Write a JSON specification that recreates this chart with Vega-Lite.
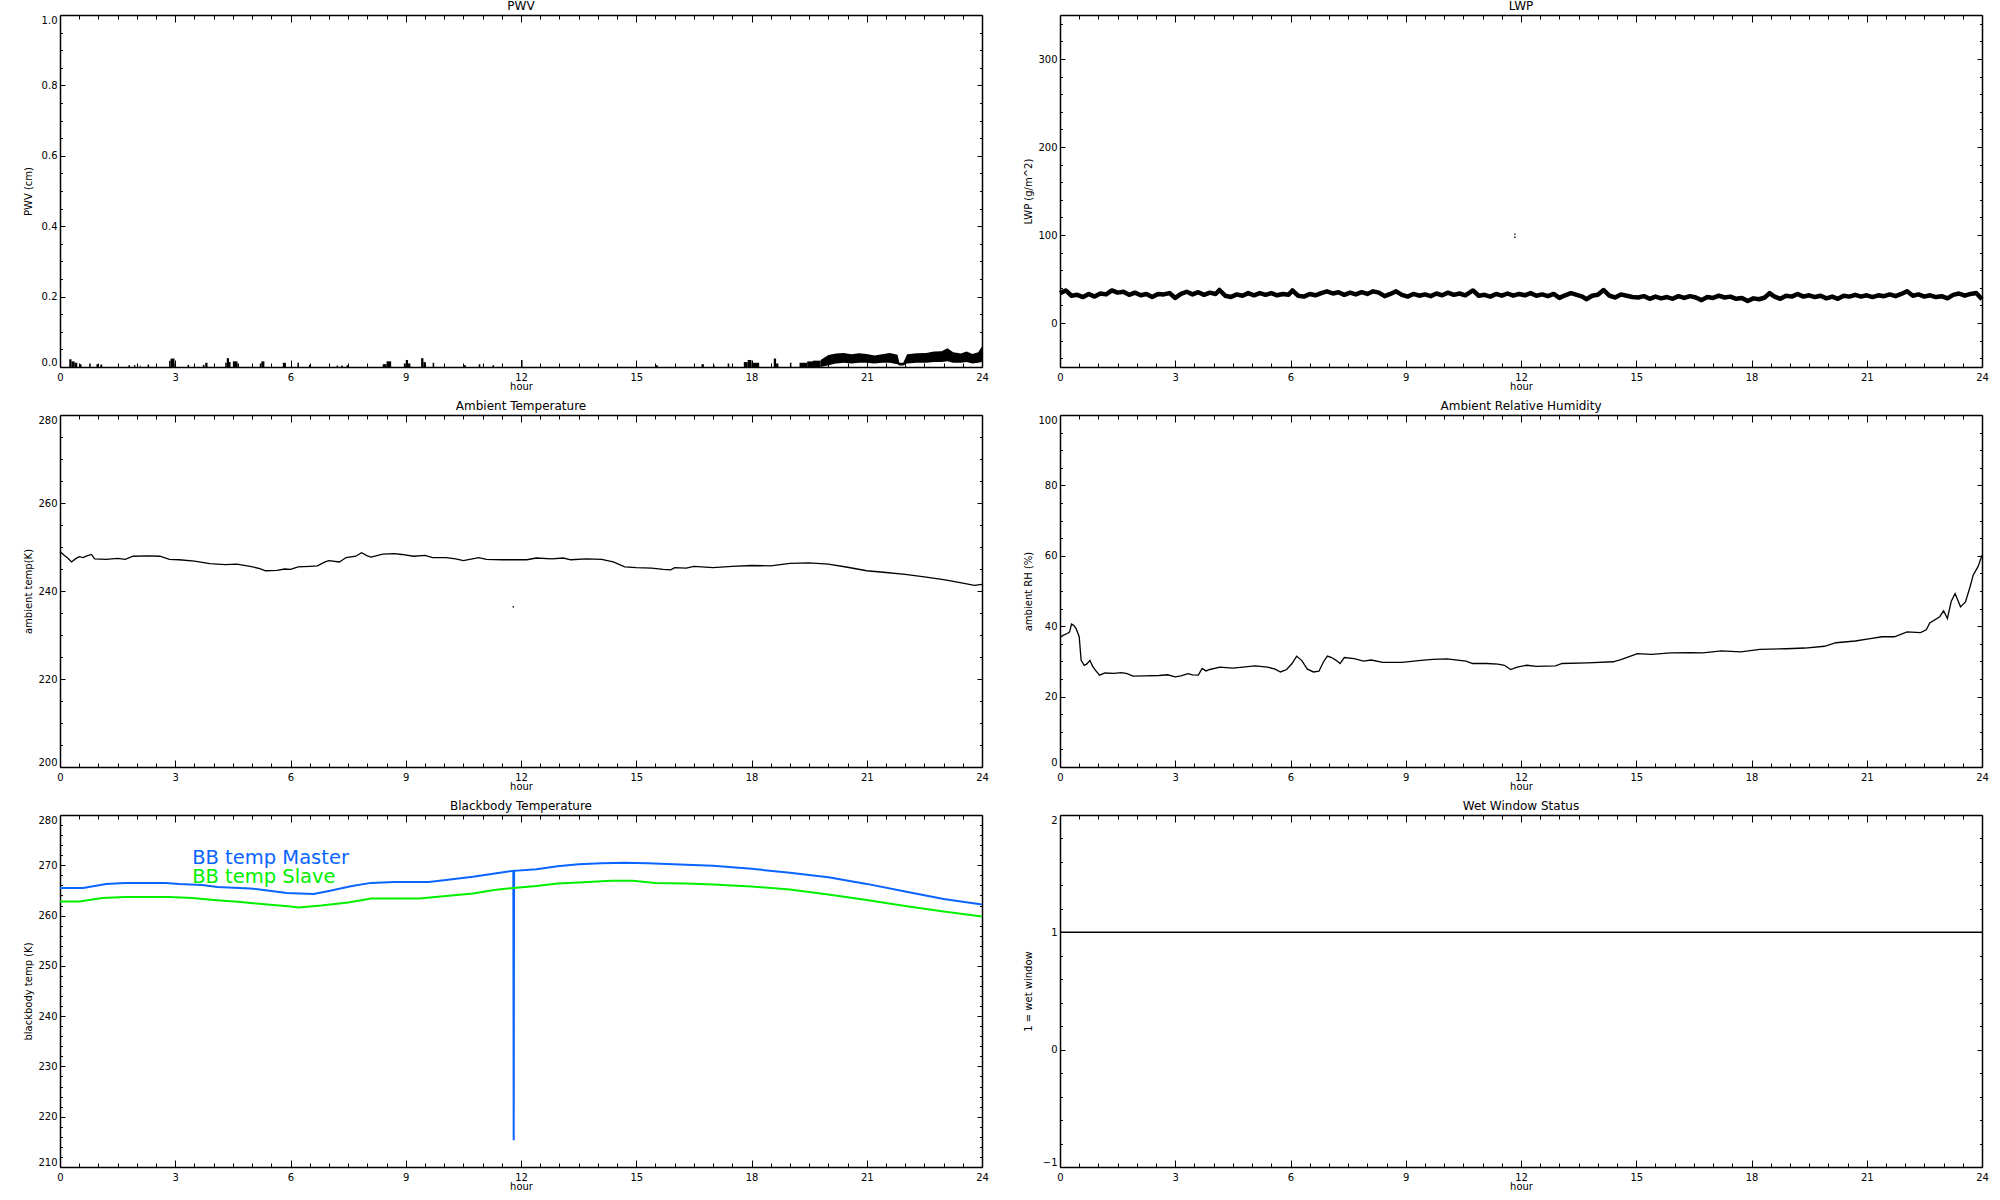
{
  "$schema": "https://vega.github.io/schema/vega-lite/v6.json",
  "background": "white",
  "padding": {"left": 23, "top": 0, "right": 0, "bottom": 0},
  "columns": 2,
  "spacing": {"row": 48, "column": 78},
  "bounds": "flush",
  "datasets": {
    "pwvSpikes": [
      {"h0":0.24,"h1":0.30,"v":0.022},{"h0":0.30,"h1":0.38,"v":0.016},{"h0":0.38,"h1":0.45,"v":0.012},{"h0":0.52,"h1":0.56,"v":0.008},
      {"h0":0.76,"h1":0.80,"v":0.010},{"h0":0.95,"h1":1.00,"v":0.008},{"h0":1.05,"h1":1.10,"v":0.007},{"h0":1.78,"h1":1.82,"v":0.005},
      {"h0":1.93,"h1":1.96,"v":0.006},{"h0":2.08,"h1":2.10,"v":0.004},{"h0":2.28,"h1":2.32,"v":0.007},{"h0":2.84,"h1":2.88,"v":0.018},
      {"h0":2.88,"h1":2.98,"v":0.024},{"h0":2.98,"h1":3.02,"v":0.010},{"h0":3.32,"h1":3.36,"v":0.006},{"h0":3.72,"h1":3.76,"v":0.006},
      {"h0":3.78,"h1":3.84,"v":0.012},{"h0":4.30,"h1":4.34,"v":0.012},{"h0":4.34,"h1":4.40,"v":0.025},{"h0":4.40,"h1":4.44,"v":0.014},
      {"h0":4.50,"h1":4.62,"v":0.016},{"h0":4.62,"h1":4.66,"v":0.010},{"h0":5.20,"h1":5.24,"v":0.010},{"h0":5.24,"h1":5.32,"v":0.016},
      {"h0":5.80,"h1":5.88,"v":0.012},{"h0":6.18,"h1":6.22,"v":0.012},{"h0":6.48,"h1":6.52,"v":0.006},{"h0":7.20,"h1":7.24,"v":0.004},
      {"h0":7.32,"h1":7.36,"v":0.004},{"h0":7.46,"h1":7.52,"v":0.005},{"h0":8.40,"h1":8.50,"v":0.008},{"h0":8.50,"h1":8.62,"v":0.016},
      {"h0":8.95,"h1":9.00,"v":0.010},{"h0":9.00,"h1":9.06,"v":0.020},{"h0":9.06,"h1":9.12,"v":0.010},{"h0":9.40,"h1":9.46,"v":0.025},
      {"h0":9.46,"h1":9.52,"v":0.014},{"h0":9.70,"h1":9.74,"v":0.012},{"h0":10.52,"h1":10.56,"v":0.006},{"h0":10.90,"h1":10.94,"v":0.008},
      {"h0":11.26,"h1":11.30,"v":0.005},{"h0":12.00,"h1":12.04,"v":0.020},{"h0":15.50,"h1":15.56,"v":0.005},{"h0":16.70,"h1":16.76,"v":0.008},
      {"h0":17.00,"h1":17.04,"v":0.005},{"h0":17.38,"h1":17.42,"v":0.010},{"h0":17.80,"h1":17.90,"v":0.014},{"h0":17.90,"h1":18.00,"v":0.020},
      {"h0":18.00,"h1":18.20,"v":0.012},{"h0":18.58,"h1":18.64,"v":0.024},{"h0":18.64,"h1":18.70,"v":0.010},{"h0":19.00,"h1":19.04,"v":0.012},
      {"h0":19.25,"h1":19.45,"v":0.012},{"h0":19.45,"h1":19.60,"v":0.016},{"h0":19.60,"h1":19.80,"v":0.018}
    ],
    "pwvBand": [
      {"hour":19.8,"lo":0.0,"hi":0.02},{"hour":20.0,"lo":0.005,"hi":0.034},{"hour":20.2,"lo":0.01,"hi":0.038},{"hour":20.4,"lo":0.012,"hi":0.04},
      {"hour":20.6,"lo":0.01,"hi":0.036},{"hour":20.8,"lo":0.012,"hi":0.039},{"hour":21.0,"lo":0.012,"hi":0.037},{"hour":21.2,"lo":0.01,"hi":0.033},
      {"hour":21.4,"lo":0.012,"hi":0.036},{"hour":21.6,"lo":0.012,"hi":0.04},{"hour":21.8,"lo":0.008,"hi":0.035},{"hour":21.85,"lo":0.004,"hi":0.012},
      {"hour":21.95,"lo":0.004,"hi":0.012},{"hour":22.05,"lo":0.01,"hi":0.036},{"hour":22.3,"lo":0.012,"hi":0.039},{"hour":22.55,"lo":0.012,"hi":0.04},
      {"hour":22.75,"lo":0.014,"hi":0.044},{"hour":22.95,"lo":0.014,"hi":0.045},{"hour":23.1,"lo":0.016,"hi":0.053},{"hour":23.25,"lo":0.012,"hi":0.042},
      {"hour":23.45,"lo":0.012,"hi":0.038},{"hour":23.6,"lo":0.014,"hi":0.044},{"hour":23.75,"lo":0.01,"hi":0.037},{"hour":23.9,"lo":0.012,"hi":0.042},
      {"hour":24.0,"lo":0.014,"hi":0.058}
    ],
    "lwp": [
      {"hour":0.00,"lwp":34},{"hour":0.15,"lwp":37},{"hour":0.30,"lwp":31},{"hour":0.45,"lwp":32},{"hour":0.60,"lwp":29.5},{"hour":0.75,"lwp":33},
      {"hour":0.90,"lwp":30},{"hour":1.05,"lwp":33.5},{"hour":1.20,"lwp":32.5},{"hour":1.35,"lwp":37},{"hour":1.50,"lwp":34.5},{"hour":1.65,"lwp":35.5},
      {"hour":1.80,"lwp":32},{"hour":1.95,"lwp":34.5},{"hour":2.10,"lwp":31.5},{"hour":2.25,"lwp":33},{"hour":2.40,"lwp":29.5},{"hour":2.55,"lwp":33},
      {"hour":2.70,"lwp":32.5},{"hour":2.85,"lwp":34},{"hour":3.00,"lwp":28.5},{"hour":3.15,"lwp":33},{"hour":3.30,"lwp":35.5},{"hour":3.45,"lwp":32.5},
      {"hour":3.60,"lwp":35},{"hour":3.75,"lwp":32},{"hour":3.90,"lwp":34.5},{"hour":4.05,"lwp":33},{"hour":4.15,"lwp":37.5},{"hour":4.30,"lwp":31},
      {"hour":4.45,"lwp":29.5},{"hour":4.60,"lwp":32.5},{"hour":4.75,"lwp":31},{"hour":4.90,"lwp":34},{"hour":5.05,"lwp":31.5},{"hour":5.20,"lwp":34},
      {"hour":5.35,"lwp":32},{"hour":5.50,"lwp":34},{"hour":5.65,"lwp":31.5},{"hour":5.80,"lwp":33},{"hour":5.95,"lwp":32},{"hour":6.05,"lwp":37},
      {"hour":6.20,"lwp":31},{"hour":6.35,"lwp":30},{"hour":6.50,"lwp":33},{"hour":6.65,"lwp":31.5},{"hour":6.80,"lwp":34},{"hour":6.95,"lwp":36},
      {"hour":7.10,"lwp":33.5},{"hour":7.25,"lwp":35},{"hour":7.40,"lwp":32},{"hour":7.55,"lwp":34.5},{"hour":7.70,"lwp":32.5},{"hour":7.85,"lwp":35},
      {"hour":8.00,"lwp":33},{"hour":8.15,"lwp":36},{"hour":8.30,"lwp":34.5},{"hour":8.45,"lwp":30.5},{"hour":8.60,"lwp":33},{"hour":8.75,"lwp":36},
      {"hour":8.90,"lwp":32},{"hour":9.05,"lwp":30},{"hour":9.20,"lwp":33},{"hour":9.35,"lwp":31},{"hour":9.50,"lwp":32.5},{"hour":9.65,"lwp":30.5},
      {"hour":9.80,"lwp":33.5},{"hour":9.95,"lwp":31.5},{"hour":10.10,"lwp":34.5},{"hour":10.25,"lwp":32},{"hour":10.40,"lwp":33.5},{"hour":10.55,"lwp":31.5},
      {"hour":10.75,"lwp":37},{"hour":10.90,"lwp":31},{"hour":11.05,"lwp":32},{"hour":11.20,"lwp":30},{"hour":11.35,"lwp":33},{"hour":11.50,"lwp":31},
      {"hour":11.65,"lwp":33.5},{"hour":11.80,"lwp":31},{"hour":11.95,"lwp":33},{"hour":12.10,"lwp":31.5},{"hour":12.25,"lwp":34},{"hour":12.40,"lwp":31},
      {"hour":12.55,"lwp":32.5},{"hour":12.70,"lwp":30.5},{"hour":12.85,"lwp":33},{"hour":13.00,"lwp":28.5},{"hour":13.15,"lwp":31.5},{"hour":13.30,"lwp":34},
      {"hour":13.45,"lwp":32},{"hour":13.60,"lwp":30},{"hour":13.70,"lwp":27},{"hour":13.85,"lwp":31},{"hour":14.00,"lwp":32},{"hour":14.15,"lwp":37.5},
      {"hour":14.30,"lwp":31},{"hour":14.45,"lwp":29},{"hour":14.60,"lwp":32.5},{"hour":14.75,"lwp":31},{"hour":14.90,"lwp":29.5},{"hour":15.05,"lwp":29},
      {"hour":15.20,"lwp":30.5},{"hour":15.35,"lwp":27.5},{"hour":15.50,"lwp":30},{"hour":15.65,"lwp":28},{"hour":15.80,"lwp":29.5},{"hour":15.95,"lwp":27.5},
      {"hour":16.10,"lwp":30.5},{"hour":16.25,"lwp":28.5},{"hour":16.40,"lwp":30.5},{"hour":16.55,"lwp":29},{"hour":16.70,"lwp":26},{"hour":16.85,"lwp":29.5},
      {"hour":17.00,"lwp":28.5},{"hour":17.15,"lwp":31},{"hour":17.30,"lwp":29},{"hour":17.45,"lwp":30},{"hour":17.60,"lwp":27.5},{"hour":17.75,"lwp":28.5},
      {"hour":17.90,"lwp":25},{"hour":18.05,"lwp":28},{"hour":18.20,"lwp":27},{"hour":18.35,"lwp":29},{"hour":18.47,"lwp":34},{"hour":18.60,"lwp":30},
      {"hour":18.75,"lwp":27.5},{"hour":18.90,"lwp":31},{"hour":19.05,"lwp":30},{"hour":19.20,"lwp":33},{"hour":19.35,"lwp":30},{"hour":19.50,"lwp":31.5},
      {"hour":19.65,"lwp":29.5},{"hour":19.80,"lwp":31},{"hour":19.95,"lwp":28},{"hour":20.10,"lwp":30},{"hour":20.25,"lwp":27.5},{"hour":20.40,"lwp":31},
      {"hour":20.55,"lwp":30},{"hour":20.70,"lwp":32},{"hour":20.85,"lwp":30},{"hour":21.00,"lwp":31.5},{"hour":21.15,"lwp":29.5},{"hour":21.30,"lwp":31.5},
      {"hour":21.45,"lwp":30.5},{"hour":21.60,"lwp":32.5},{"hour":21.75,"lwp":30.5},{"hour":21.90,"lwp":33},{"hour":22.05,"lwp":36},{"hour":22.20,"lwp":31},
      {"hour":22.35,"lwp":32.5},{"hour":22.50,"lwp":30},{"hour":22.65,"lwp":31.5},{"hour":22.80,"lwp":29.5},{"hour":22.95,"lwp":30.5},{"hour":23.10,"lwp":28},
      {"hour":23.25,"lwp":32},{"hour":23.40,"lwp":33.5},{"hour":23.55,"lwp":31},{"hour":23.70,"lwp":33},{"hour":23.85,"lwp":34},{"hour":24.00,"lwp":27}
    ],
    "lwpDots": [{"hour":11.84,"lwp":101},{"hour":11.84,"lwp":97.5}],
    "temp": [
      {"hour":0,"t":249.0},{"hour":0.1,"t":248.2},{"hour":0.2,"t":247.5},{"hour":0.3,"t":246.6},{"hour":0.4,"t":247.3},{"hour":0.5,"t":247.8},
      {"hour":0.6,"t":247.6},{"hour":0.7,"t":248.0},{"hour":0.82,"t":248.3},{"hour":0.9,"t":247.3},{"hour":1.2,"t":247.2},{"hour":1.5,"t":247.4},
      {"hour":1.7,"t":247.2},{"hour":1.9,"t":247.9},{"hour":2.3,"t":248.0},{"hour":2.6,"t":247.9},{"hour":2.85,"t":247.2},{"hour":3.1,"t":247.1},
      {"hour":3.5,"t":246.8},{"hour":3.9,"t":246.2},{"hour":4.3,"t":246.0},{"hour":4.6,"t":246.1},{"hour":4.95,"t":245.6},{"hour":5.2,"t":245.1},
      {"hour":5.35,"t":244.6},{"hour":5.65,"t":244.7},{"hour":5.85,"t":245.0},{"hour":6.0,"t":244.9},{"hour":6.2,"t":245.5},{"hour":6.5,"t":245.6},
      {"hour":6.7,"t":245.7},{"hour":6.9,"t":246.6},{"hour":7.0,"t":246.9},{"hour":7.27,"t":246.6},{"hour":7.45,"t":247.6},{"hour":7.7,"t":247.9},
      {"hour":7.85,"t":248.7},{"hour":8.0,"t":248.0},{"hour":8.1,"t":247.7},{"hour":8.4,"t":248.4},{"hour":8.7,"t":248.5},{"hour":8.9,"t":248.3},
      {"hour":9.2,"t":247.9},{"hour":9.5,"t":248.1},{"hour":9.7,"t":247.6},{"hour":10.05,"t":247.6},{"hour":10.3,"t":247.3},{"hour":10.5,"t":246.9},
      {"hour":10.9,"t":247.6},{"hour":11.1,"t":247.2},{"hour":11.5,"t":247.1},{"hour":12.15,"t":247.1},{"hour":12.4,"t":247.5},{"hour":12.8,"t":247.3},
      {"hour":13.1,"t":247.5},{"hour":13.3,"t":247.1},{"hour":13.7,"t":247.3},{"hour":14.1,"t":247.2},{"hour":14.4,"t":246.6},{"hour":14.7,"t":245.5},
      {"hour":15.0,"t":245.3},{"hour":15.4,"t":245.2},{"hour":15.7,"t":244.9},{"hour":15.9,"t":244.8},{"hour":16.0,"t":245.3},{"hour":16.3,"t":245.2},
      {"hour":16.5,"t":245.6},{"hour":17.0,"t":245.3},{"hour":17.5,"t":245.6},{"hour":18.0,"t":245.8},{"hour":18.5,"t":245.7},{"hour":19.0,"t":246.3},
      {"hour":19.5,"t":246.4},{"hour":20.0,"t":246.1},{"hour":20.5,"t":245.4},{"hour":21.0,"t":244.6},{"hour":21.5,"t":244.2},{"hour":22.0,"t":243.8},
      {"hour":22.5,"t":243.2},{"hour":23.0,"t":242.6},{"hour":23.5,"t":241.8},{"hour":23.8,"t":241.3},{"hour":24.0,"t":241.5}
    ],
    "tempDot": [{"hour":11.8,"t":236.4}],
    "rh": [
      {"hour":0,"rh":36.8},{"hour":0.08,"rh":37.4},{"hour":0.2,"rh":38},{"hour":0.25,"rh":38.4},{"hour":0.3,"rh":40.6},{"hour":0.36,"rh":40.2},
      {"hour":0.42,"rh":39.3},{"hour":0.5,"rh":37},{"hour":0.55,"rh":30.3},{"hour":0.63,"rh":28.9},{"hour":0.7,"rh":29.3},{"hour":0.78,"rh":30.3},
      {"hour":0.85,"rh":28.6},{"hour":0.92,"rh":27.5},{"hour":1.03,"rh":26.1},{"hour":1.17,"rh":26.7},{"hour":1.4,"rh":26.6},{"hour":1.6,"rh":26.8},
      {"hour":1.75,"rh":26.5},{"hour":1.9,"rh":25.8},{"hour":2.2,"rh":25.9},{"hour":2.58,"rh":26},{"hour":2.8,"rh":26.2},{"hour":3.0,"rh":25.6},
      {"hour":3.15,"rh":25.9},{"hour":3.33,"rh":26.5},{"hour":3.45,"rh":26.2},{"hour":3.6,"rh":26.1},{"hour":3.7,"rh":28},{"hour":3.8,"rh":27.3},
      {"hour":3.9,"rh":27.7},{"hour":4.16,"rh":28.4},{"hour":4.5,"rh":28.1},{"hour":5.08,"rh":28.7},{"hour":5.4,"rh":28.4},{"hour":5.6,"rh":27.8},
      {"hour":5.74,"rh":27},{"hour":5.9,"rh":27.7},{"hour":6.04,"rh":29.4},{"hour":6.16,"rh":31.5},{"hour":6.29,"rh":30.3},{"hour":6.44,"rh":27.8},
      {"hour":6.6,"rh":27},{"hour":6.74,"rh":27.2},{"hour":6.86,"rh":29.9},{"hour":6.96,"rh":31.5},{"hour":7.07,"rh":31.1},{"hour":7.19,"rh":30.3},
      {"hour":7.29,"rh":29.4},{"hour":7.4,"rh":31.1},{"hour":7.66,"rh":30.8},{"hour":7.9,"rh":30.1},{"hour":8.1,"rh":30.4},{"hour":8.4,"rh":29.7},
      {"hour":8.9,"rh":29.7},{"hour":9.4,"rh":30.3},{"hour":9.7,"rh":30.6},{"hour":10.07,"rh":30.7},{"hour":10.57,"rh":30.1},{"hour":10.74,"rh":29.4},
      {"hour":11.1,"rh":29.4},{"hour":11.4,"rh":29.2},{"hour":11.57,"rh":28.9},{"hour":11.73,"rh":27.7},{"hour":11.9,"rh":28.4},{"hour":12.15,"rh":28.9},
      {"hour":12.4,"rh":28.6},{"hour":12.9,"rh":28.7},{"hour":13.07,"rh":29.4},{"hour":13.73,"rh":29.6},{"hour":14.4,"rh":29.9},{"hour":14.6,"rh":30.5},
      {"hour":14.8,"rh":31.3},{"hour":15.03,"rh":32.2},{"hour":15.4,"rh":32},{"hour":15.9,"rh":32.4},{"hour":16.4,"rh":32.5},{"hour":16.73,"rh":32.4},
      {"hour":17.22,"rh":33},{"hour":17.72,"rh":32.7},{"hour":18.22,"rh":33.4},{"hour":18.9,"rh":33.6},{"hour":19.39,"rh":33.8},{"hour":19.9,"rh":34.3},
      {"hour":20.2,"rh":35.3},{"hour":20.7,"rh":35.8},{"hour":21.05,"rh":36.4},{"hour":21.4,"rh":37},{"hour":21.72,"rh":37},{"hour":22.05,"rh":38.4},
      {"hour":22.4,"rh":38.2},{"hour":22.55,"rh":39},{"hour":22.64,"rh":40.9},{"hour":22.9,"rh":42.7},{"hour":23.0,"rh":44.4},{"hour":23.1,"rh":42.2},
      {"hour":23.2,"rh":47.1},{"hour":23.3,"rh":49.3},{"hour":23.44,"rh":45.5},{"hour":23.57,"rh":46.9},{"hour":23.69,"rh":51.2},{"hour":23.77,"rh":54.5},
      {"hour":23.9,"rh":57},{"hour":24,"rh":60.2}
    ],
    "bb": [
      {"series":"Master","hour":0,"t":265.5},{"series":"Master","hour":0.6,"t":265.5},{"series":"Master","hour":1.2,"t":266.3},{"series":"Master","hour":1.7,"t":266.5},
      {"series":"Master","hour":2.75,"t":266.5},{"series":"Master","hour":3.1,"t":266.3},{"series":"Master","hour":3.7,"t":266.1},{"series":"Master","hour":4.1,"t":265.7},
      {"series":"Master","hour":4.95,"t":265.4},{"series":"Master","hour":5.4,"t":265.0},{"series":"Master","hour":5.9,"t":264.5},{"series":"Master","hour":6.6,"t":264.3},
      {"series":"Master","hour":7.0,"t":264.9},{"series":"Master","hour":7.6,"t":265.9},{"series":"Master","hour":8.1,"t":266.5},{"series":"Master","hour":8.7,"t":266.7},
      {"series":"Master","hour":9.6,"t":266.7},{"series":"Master","hour":10.1,"t":267.1},{"series":"Master","hour":10.75,"t":267.7},{"series":"Master","hour":11.45,"t":268.5},
      {"series":"Master","hour":11.8,"t":268.9},{"series":"Master","hour":11.81,"t":215.3},{"series":"Master","hour":11.82,"t":268.9},
      {"series":"Master","hour":12.4,"t":269.2},{"series":"Master","hour":12.95,"t":269.8},{"series":"Master","hour":13.5,"t":270.2},{"series":"Master","hour":14.1,"t":270.4},
      {"series":"Master","hour":14.7,"t":270.5},{"series":"Master","hour":15.3,"t":270.4},{"series":"Master","hour":16.3,"t":270.1},{"series":"Master","hour":17.0,"t":269.9},
      {"series":"Master","hour":18.0,"t":269.3},{"series":"Master","hour":19.0,"t":268.5},{"series":"Master","hour":20.0,"t":267.6},{"series":"Master","hour":21.0,"t":266.3},
      {"series":"Master","hour":22.0,"t":264.8},{"series":"Master","hour":23.0,"t":263.3},{"series":"Master","hour":24.0,"t":262.2},
      {"series":"Slave","hour":0,"t":262.8},{"series":"Slave","hour":0.5,"t":262.8},{"series":"Slave","hour":1.1,"t":263.5},{"series":"Slave","hour":1.7,"t":263.7},
      {"series":"Slave","hour":2.85,"t":263.7},{"series":"Slave","hour":3.45,"t":263.5},{"series":"Slave","hour":4.0,"t":263.1},{"series":"Slave","hour":4.7,"t":262.7},
      {"series":"Slave","hour":5.4,"t":262.2},{"series":"Slave","hour":6.0,"t":261.8},{"series":"Slave","hour":6.2,"t":261.6},{"series":"Slave","hour":6.8,"t":262.0},
      {"series":"Slave","hour":7.5,"t":262.6},{"series":"Slave","hour":8.1,"t":263.4},{"series":"Slave","hour":8.9,"t":263.4},{"series":"Slave","hour":9.35,"t":263.4},
      {"series":"Slave","hour":10.05,"t":263.9},{"series":"Slave","hour":10.75,"t":264.4},{"series":"Slave","hour":11.3,"t":265.1},{"series":"Slave","hour":11.8,"t":265.5},
      {"series":"Slave","hour":12.4,"t":265.9},{"series":"Slave","hour":12.95,"t":266.4},{"series":"Slave","hour":13.5,"t":266.6},{"series":"Slave","hour":14.35,"t":266.9},
      {"series":"Slave","hour":14.9,"t":266.9},{"series":"Slave","hour":15.5,"t":266.5},{"series":"Slave","hour":16.3,"t":266.4},{"series":"Slave","hour":17.0,"t":266.2},
      {"series":"Slave","hour":18.0,"t":265.8},{"series":"Slave","hour":19.0,"t":265.2},{"series":"Slave","hour":20.0,"t":264.2},{"series":"Slave","hour":21.0,"t":263.1},
      {"series":"Slave","hour":22.0,"t":261.9},{"series":"Slave","hour":23.0,"t":260.8},{"series":"Slave","hour":24.0,"t":259.8}
    ],
    "bbLegend": [
      {"series":"Master","hour":3.44,"t":270.3,"label":"BB temp Master"},
      {"series":"Slave","hour":3.44,"t":266.5,"label":"BB temp Slave"}
    ],
    "wet": [{"hour":0,"w":1},{"hour":24,"w":1}]
  },
  "concat": [
    {
      "width": 922, "height": 352,
      "title": "PWV",
      "resolve": {"axis": {"x": "independent", "y": "independent"}},
      "layer": [
        {
          "data": {"name": "pwvSpikes"},
          "mark": {"type": "rect", "color": "black"},
          "encoding": {
            "x": {"field": "h0", "type": "quantitative", "scale": {"domain": [0, 24], "nice": false, "zero": false},
              "axis": {"orient": "bottom", "values": [0,0.5,1,1.5,2,2.5,3,3.5,4,4.5,5,5.5,6,6.5,7,7.5,8,8.5,9,9.5,10,10.5,11,11.5,12,12.5,13,13.5,14,14.5,15,15.5,16,16.5,17,17.5,18,18.5,19,19.5,20,20.5,21,21.5,22,22.5,23,23.5,24],
                "tickSize": {"condition": {"test": "datum.value % 3 === 0", "value": -7}, "value": -4},
                "labelExpr": "datum.value % 3 === 0 ? format(datum.value, 'd') : ''",
                "title": "hour", "labelPadding": 12, "labelFlush": false, "labelOverlap": false, "labelBound": false, "labelBaseline": "top",
                "minExtent": 14, "maxExtent": 14, "titlePadding": 0}},
            "x2": {"field": "h1"},
            "y": {"field": "v", "type": "quantitative", "scale": {"domain": [0, 1], "nice": false, "zero": false},
              "axis": {"orient": "left", "values": [0,0.05,0.1,0.15,0.2,0.25,0.3,0.35,0.4,0.45,0.5,0.55,0.6,0.65,0.7,0.75,0.8,0.85,0.9,0.95,1],
                "tickSize": {"condition": {"test": "abs(datum.value*5 - round(datum.value*5)) < 0.001", "value": -5}, "value": -2.5},
                "labelExpr": "abs(datum.value*5 - round(datum.value*5)) < 0.001 ? format(datum.value, '.1f') : ''",
                "title": "PWV (cm)", "labelPadding": 8, "labelFlush": true, "labelOverlap": false, "labelBound": false,
                "minExtent": 27, "maxExtent": 27, "titlePadding": 0}},
            "y2": {"datum": 0}
          }
        },
        {
          "data": {"name": "pwvBand"},
          "mark": {"type": "area", "color": "black", "opacity": 1},
          "encoding": {
            "x": {"field": "hour", "type": "quantitative", "scale": {"domain": [0, 24], "nice": false, "zero": false},
              "axis": {"orient": "top", "values": [0,0.5,1,1.5,2,2.5,3,3.5,4,4.5,5,5.5,6,6.5,7,7.5,8,8.5,9,9.5,10,10.5,11,11.5,12,12.5,13,13.5,14,14.5,15,15.5,16,16.5,17,17.5,18,18.5,19,19.5,20,20.5,21,21.5,22,22.5,23,23.5,24],
                "tickSize": {"condition": {"test": "datum.value % 3 === 0", "value": -7}, "value": -4},
                "labels": false, "title": null, "minExtent": 0, "maxExtent": 0}},
            "y": {"field": "hi", "type": "quantitative", "scale": {"domain": [0, 1], "nice": false, "zero": false},
              "axis": {"orient": "right", "values": [0,0.05,0.1,0.15,0.2,0.25,0.3,0.35,0.4,0.45,0.5,0.55,0.6,0.65,0.7,0.75,0.8,0.85,0.9,0.95,1],
                "tickSize": {"condition": {"test": "abs(datum.value*5 - round(datum.value*5)) < 0.001", "value": -5}, "value": -2.5},
                "labels": false, "title": null, "minExtent": 0, "maxExtent": 0}},
            "y2": {"field": "lo"}
          }
        }
      ]
    },
    {
      "width": 922, "height": 352,
      "title": "LWP",
      "resolve": {"axis": {"x": "independent", "y": "independent"}},
      "layer": [
        {
          "data": {"name": "lwp"},
          "mark": {"type": "line", "color": "black", "strokeWidth": 4.5, "strokeJoin": "round"},
          "encoding": {
            "x": {"field": "hour", "type": "quantitative", "scale": {"domain": [0, 24], "nice": false, "zero": false},
              "axis": {"orient": "bottom", "values": [0,0.5,1,1.5,2,2.5,3,3.5,4,4.5,5,5.5,6,6.5,7,7.5,8,8.5,9,9.5,10,10.5,11,11.5,12,12.5,13,13.5,14,14.5,15,15.5,16,16.5,17,17.5,18,18.5,19,19.5,20,20.5,21,21.5,22,22.5,23,23.5,24],
                "tickSize": {"condition": {"test": "datum.value % 3 === 0", "value": -7}, "value": -4},
                "labelExpr": "datum.value % 3 === 0 ? format(datum.value, 'd') : ''",
                "title": "hour", "labelPadding": 12, "labelFlush": false, "labelOverlap": false, "labelBound": false, "labelBaseline": "top",
                "minExtent": 14, "maxExtent": 14, "titlePadding": 0}},
            "y": {"field": "lwp", "type": "quantitative", "scale": {"domain": [-50, 350], "nice": false, "zero": false},
              "axis": {"orient": "left", "values": [-40,-20,0,20,40,60,80,100,120,140,160,180,200,220,240,260,280,300,320,340],
                "tickSize": {"condition": {"test": "datum.value % 100 === 0", "value": -5}, "value": -2.5},
                "labelExpr": "datum.value % 100 === 0 ? format(datum.value, 'd') : ''",
                "title": "LWP (g/m^2)", "labelPadding": 8, "labelFlush": true, "labelOverlap": false, "labelBound": false,
                "minExtent": 27, "maxExtent": 27, "titlePadding": 0}}
          }
        },
        {
          "data": {"name": "lwpDots"},
          "mark": {"type": "square", "color": "black", "size": 2, "opacity": 1},
          "encoding": {
            "x": {"field": "hour", "type": "quantitative", "scale": {"domain": [0, 24], "nice": false, "zero": false},
              "axis": {"orient": "top", "values": [0,0.5,1,1.5,2,2.5,3,3.5,4,4.5,5,5.5,6,6.5,7,7.5,8,8.5,9,9.5,10,10.5,11,11.5,12,12.5,13,13.5,14,14.5,15,15.5,16,16.5,17,17.5,18,18.5,19,19.5,20,20.5,21,21.5,22,22.5,23,23.5,24],
                "tickSize": {"condition": {"test": "datum.value % 3 === 0", "value": -7}, "value": -4},
                "labels": false, "title": null, "minExtent": 0, "maxExtent": 0}},
            "y": {"field": "lwp", "type": "quantitative", "scale": {"domain": [-50, 350], "nice": false, "zero": false},
              "axis": {"orient": "right", "values": [-40,-20,0,20,40,60,80,100,120,140,160,180,200,220,240,260,280,300,320,340],
                "tickSize": {"condition": {"test": "datum.value % 100 === 0", "value": -5}, "value": -2.5},
                "labels": false, "title": null, "minExtent": 0, "maxExtent": 0}}
          }
        }
      ]
    },
    {
      "width": 922, "height": 352,
      "title": "Ambient Temperature",
      "resolve": {"axis": {"x": "independent", "y": "independent"}},
      "layer": [
        {
          "data": {"name": "temp"},
          "mark": {"type": "line", "color": "black", "strokeWidth": 1.3},
          "encoding": {
            "x": {"field": "hour", "type": "quantitative", "scale": {"domain": [0, 24], "nice": false, "zero": false},
              "axis": {"orient": "bottom", "values": [0,0.5,1,1.5,2,2.5,3,3.5,4,4.5,5,5.5,6,6.5,7,7.5,8,8.5,9,9.5,10,10.5,11,11.5,12,12.5,13,13.5,14,14.5,15,15.5,16,16.5,17,17.5,18,18.5,19,19.5,20,20.5,21,21.5,22,22.5,23,23.5,24],
                "tickSize": {"condition": {"test": "datum.value % 3 === 0", "value": -7}, "value": -4},
                "labelExpr": "datum.value % 3 === 0 ? format(datum.value, 'd') : ''",
                "title": "hour", "labelPadding": 12, "labelFlush": false, "labelOverlap": false, "labelBound": false, "labelBaseline": "top",
                "minExtent": 14, "maxExtent": 14, "titlePadding": 0}},
            "y": {"field": "t", "type": "quantitative", "scale": {"domain": [200, 280], "nice": false, "zero": false},
              "axis": {"orient": "left", "values": [200,205,210,215,220,225,230,235,240,245,250,255,260,265,270,275,280],
                "tickSize": {"condition": {"test": "datum.value % 20 === 0", "value": -5}, "value": -2.5},
                "labelExpr": "datum.value % 20 === 0 ? format(datum.value, 'd') : ''",
                "title": "ambient temp(K)", "labelPadding": 8, "labelFlush": true, "labelOverlap": false, "labelBound": false,
                "minExtent": 27, "maxExtent": 27, "titlePadding": 0}}
          }
        },
        {
          "data": {"name": "tempDot"},
          "mark": {"type": "square", "color": "black", "size": 2, "opacity": 1},
          "encoding": {
            "x": {"field": "hour", "type": "quantitative", "scale": {"domain": [0, 24], "nice": false, "zero": false},
              "axis": {"orient": "top", "values": [0,0.5,1,1.5,2,2.5,3,3.5,4,4.5,5,5.5,6,6.5,7,7.5,8,8.5,9,9.5,10,10.5,11,11.5,12,12.5,13,13.5,14,14.5,15,15.5,16,16.5,17,17.5,18,18.5,19,19.5,20,20.5,21,21.5,22,22.5,23,23.5,24],
                "tickSize": {"condition": {"test": "datum.value % 3 === 0", "value": -7}, "value": -4},
                "labels": false, "title": null, "minExtent": 0, "maxExtent": 0}},
            "y": {"field": "t", "type": "quantitative", "scale": {"domain": [200, 280], "nice": false, "zero": false},
              "axis": {"orient": "right", "values": [200,205,210,215,220,225,230,235,240,245,250,255,260,265,270,275,280],
                "tickSize": {"condition": {"test": "datum.value % 20 === 0", "value": -5}, "value": -2.5},
                "labels": false, "title": null, "minExtent": 0, "maxExtent": 0}}
          }
        }
      ]
    },
    {
      "width": 922, "height": 352,
      "title": "Ambient Relative Humidity",
      "resolve": {"axis": {"x": "independent", "y": "independent"}},
      "layer": [
        {
          "data": {"name": "rh"},
          "mark": {"type": "line", "color": "black", "strokeWidth": 1.3},
          "encoding": {
            "x": {"field": "hour", "type": "quantitative", "scale": {"domain": [0, 24], "nice": false, "zero": false},
              "axis": {"orient": "bottom", "values": [0,0.5,1,1.5,2,2.5,3,3.5,4,4.5,5,5.5,6,6.5,7,7.5,8,8.5,9,9.5,10,10.5,11,11.5,12,12.5,13,13.5,14,14.5,15,15.5,16,16.5,17,17.5,18,18.5,19,19.5,20,20.5,21,21.5,22,22.5,23,23.5,24],
                "tickSize": {"condition": {"test": "datum.value % 3 === 0", "value": -7}, "value": -4},
                "labelExpr": "datum.value % 3 === 0 ? format(datum.value, 'd') : ''",
                "title": "hour", "labelPadding": 12, "labelFlush": false, "labelOverlap": false, "labelBound": false, "labelBaseline": "top",
                "minExtent": 14, "maxExtent": 14, "titlePadding": 0}},
            "y": {"field": "rh", "type": "quantitative", "scale": {"domain": [0, 100], "nice": false, "zero": false},
              "axis": {"orient": "left", "values": [0,5,10,15,20,25,30,35,40,45,50,55,60,65,70,75,80,85,90,95,100],
                "tickSize": {"condition": {"test": "datum.value % 20 === 0", "value": -5}, "value": -2.5},
                "labelExpr": "datum.value % 20 === 0 ? format(datum.value, 'd') : ''",
                "title": "ambient RH (%)", "labelPadding": 8, "labelFlush": true, "labelOverlap": false, "labelBound": false,
                "minExtent": 27, "maxExtent": 27, "titlePadding": 0}}
          }
        },
        {
          "data": {"name": "rh"},
          "mark": {"type": "line", "color": "black", "strokeWidth": 1, "opacity": 0},
          "encoding": {
            "x": {"field": "hour", "type": "quantitative", "scale": {"domain": [0, 24], "nice": false, "zero": false},
              "axis": {"orient": "top", "values": [0,0.5,1,1.5,2,2.5,3,3.5,4,4.5,5,5.5,6,6.5,7,7.5,8,8.5,9,9.5,10,10.5,11,11.5,12,12.5,13,13.5,14,14.5,15,15.5,16,16.5,17,17.5,18,18.5,19,19.5,20,20.5,21,21.5,22,22.5,23,23.5,24],
                "tickSize": {"condition": {"test": "datum.value % 3 === 0", "value": -7}, "value": -4},
                "labels": false, "title": null, "minExtent": 0, "maxExtent": 0}},
            "y": {"field": "rh", "type": "quantitative", "scale": {"domain": [0, 100], "nice": false, "zero": false},
              "axis": {"orient": "right", "values": [0,5,10,15,20,25,30,35,40,45,50,55,60,65,70,75,80,85,90,95,100],
                "tickSize": {"condition": {"test": "datum.value % 20 === 0", "value": -5}, "value": -2.5},
                "labels": false, "title": null, "minExtent": 0, "maxExtent": 0}}
          }
        }
      ]
    },
    {
      "width": 922, "height": 352,
      "title": "Blackbody Temperature",
      "resolve": {"axis": {"x": "independent", "y": "independent"}},
      "layer": [
        {
          "data": {"name": "bb"},
          "mark": {"type": "line", "strokeWidth": 2},
          "encoding": {
            "x": {"field": "hour", "type": "quantitative", "scale": {"domain": [0, 24], "nice": false, "zero": false},
              "axis": {"orient": "bottom", "values": [0,0.5,1,1.5,2,2.5,3,3.5,4,4.5,5,5.5,6,6.5,7,7.5,8,8.5,9,9.5,10,10.5,11,11.5,12,12.5,13,13.5,14,14.5,15,15.5,16,16.5,17,17.5,18,18.5,19,19.5,20,20.5,21,21.5,22,22.5,23,23.5,24],
                "tickSize": {"condition": {"test": "datum.value % 3 === 0", "value": -7}, "value": -4},
                "labelExpr": "datum.value % 3 === 0 ? format(datum.value, 'd') : ''",
                "title": "hour", "labelPadding": 12, "labelFlush": false, "labelOverlap": false, "labelBound": false, "labelBaseline": "top",
                "minExtent": 14, "maxExtent": 14, "titlePadding": 0}},
            "y": {"field": "t", "type": "quantitative", "scale": {"domain": [210, 280], "nice": false, "zero": false},
              "axis": {"orient": "left", "values": [210,212,214,216,218,220,222,224,226,228,230,232,234,236,238,240,242,244,246,248,250,252,254,256,258,260,262,264,266,268,270,272,274,276,278,280],
                "tickSize": {"condition": {"test": "datum.value % 10 === 0", "value": -5}, "value": -2.5},
                "labelExpr": "datum.value % 10 === 0 ? format(datum.value, 'd') : ''",
                "title": "blackbody temp (K)", "labelPadding": 8, "labelFlush": true, "labelOverlap": false, "labelBound": false,
                "minExtent": 27, "maxExtent": 27, "titlePadding": 0}},
            "color": {"field": "series", "type": "nominal", "scale": {"domain": ["Master", "Slave"], "range": ["#0a64ff", "#00f000"]}, "legend": null},
            "detail": {"field": "series"}
          }
        },
        {
          "data": {"name": "bbLegend"},
          "mark": {"type": "text", "align": "left", "baseline": "alphabetic", "font": "DejaVu Sans", "fontSize": 19.5},
          "encoding": {
            "x": {"field": "hour", "type": "quantitative", "scale": {"domain": [0, 24], "nice": false, "zero": false},
              "axis": {"orient": "top", "values": [0,0.5,1,1.5,2,2.5,3,3.5,4,4.5,5,5.5,6,6.5,7,7.5,8,8.5,9,9.5,10,10.5,11,11.5,12,12.5,13,13.5,14,14.5,15,15.5,16,16.5,17,17.5,18,18.5,19,19.5,20,20.5,21,21.5,22,22.5,23,23.5,24],
                "tickSize": {"condition": {"test": "datum.value % 3 === 0", "value": -7}, "value": -4},
                "labels": false, "title": null, "minExtent": 0, "maxExtent": 0}},
            "y": {"field": "t", "type": "quantitative", "scale": {"domain": [210, 280], "nice": false, "zero": false},
              "axis": {"orient": "right", "values": [210,212,214,216,218,220,222,224,226,228,230,232,234,236,238,240,242,244,246,248,250,252,254,256,258,260,262,264,266,268,270,272,274,276,278,280],
                "tickSize": {"condition": {"test": "datum.value % 10 === 0", "value": -5}, "value": -2.5},
                "labels": false, "title": null, "minExtent": 0, "maxExtent": 0}},
            "text": {"field": "label"},
            "color": {"field": "series", "type": "nominal", "scale": {"domain": ["Master", "Slave"], "range": ["#0a64ff", "#00f000"]}, "legend": null}
          }
        }
      ]
    },
    {
      "width": 922, "height": 352,
      "title": "Wet Window Status",
      "resolve": {"axis": {"x": "independent", "y": "independent"}},
      "layer": [
        {
          "data": {"name": "wet"},
          "mark": {"type": "line", "color": "black", "strokeWidth": 1.5},
          "encoding": {
            "x": {"field": "hour", "type": "quantitative", "scale": {"domain": [0, 24], "nice": false, "zero": false},
              "axis": {"orient": "bottom", "values": [0,0.5,1,1.5,2,2.5,3,3.5,4,4.5,5,5.5,6,6.5,7,7.5,8,8.5,9,9.5,10,10.5,11,11.5,12,12.5,13,13.5,14,14.5,15,15.5,16,16.5,17,17.5,18,18.5,19,19.5,20,20.5,21,21.5,22,22.5,23,23.5,24],
                "tickSize": {"condition": {"test": "datum.value % 3 === 0", "value": -7}, "value": -4},
                "labelExpr": "datum.value % 3 === 0 ? format(datum.value, 'd') : ''",
                "title": "hour", "labelPadding": 12, "labelFlush": false, "labelOverlap": false, "labelBound": false, "labelBaseline": "top",
                "minExtent": 14, "maxExtent": 14, "titlePadding": 0}},
            "y": {"field": "w", "type": "quantitative", "scale": {"domain": [-1, 2], "nice": false, "zero": false},
              "axis": {"orient": "left", "values": [-1,-0.8,-0.6,-0.4,-0.2,0,0.2,0.4,0.6,0.8,1,1.2,1.4,1.6,1.8,2],
                "tickSize": {"condition": {"test": "abs(datum.value - round(datum.value)) < 0.001", "value": -5}, "value": -2.5},
                "labelExpr": "abs(datum.value - round(datum.value)) < 0.001 ? format(datum.value, 'd') : ''",
                "title": "1 = wet window", "labelPadding": 8, "labelFlush": true, "labelOverlap": false, "labelBound": false,
                "minExtent": 27, "maxExtent": 27, "titlePadding": 0}}
          }
        },
        {
          "data": {"name": "wet"},
          "mark": {"type": "line", "color": "black", "opacity": 0},
          "encoding": {
            "x": {"field": "hour", "type": "quantitative", "scale": {"domain": [0, 24], "nice": false, "zero": false},
              "axis": {"orient": "top", "values": [0,0.5,1,1.5,2,2.5,3,3.5,4,4.5,5,5.5,6,6.5,7,7.5,8,8.5,9,9.5,10,10.5,11,11.5,12,12.5,13,13.5,14,14.5,15,15.5,16,16.5,17,17.5,18,18.5,19,19.5,20,20.5,21,21.5,22,22.5,23,23.5,24],
                "tickSize": {"condition": {"test": "datum.value % 3 === 0", "value": -7}, "value": -4},
                "labels": false, "title": null, "minExtent": 0, "maxExtent": 0}},
            "y": {"field": "w", "type": "quantitative", "scale": {"domain": [-1, 2], "nice": false, "zero": false},
              "axis": {"orient": "right", "values": [-1,-0.8,-0.6,-0.4,-0.2,0,0.2,0.4,0.6,0.8,1,1.2,1.4,1.6,1.8,2],
                "tickSize": {"condition": {"test": "abs(datum.value - round(datum.value)) < 0.001", "value": -5}, "value": -2.5},
                "labels": false, "title": null, "minExtent": 0, "maxExtent": 0}}
          }
        }
      ]
    }
  ],
  "config": {
    "view": {"stroke": null},
    "axis": {
      "grid": false,
      "domainColor": "black", "domainWidth": 1.5,
      "tickColor": "black", "tickWidth": 1,
      "labelColor": "black", "labelFont": "DejaVu Sans", "labelFontSize": 10,
      "titleColor": "black", "titleFont": "DejaVu Sans", "titleFontSize": 10, "titleFontWeight": "normal"
    },
    "title": {"font": "DejaVu Sans", "fontSize": 12, "fontWeight": "normal", "color": "black", "anchor": "middle", "frame": "group", "offset": 1.5, "baseline": "alphabetic"}
  }
}
